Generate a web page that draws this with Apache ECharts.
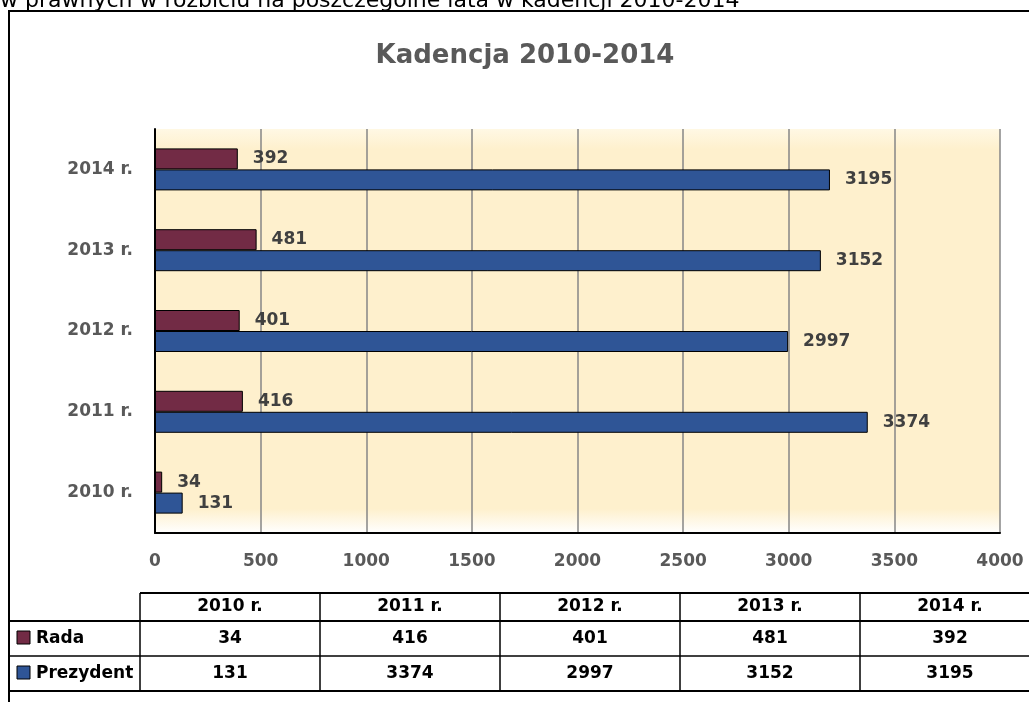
<!DOCTYPE html>
<html>
<head>
<meta charset="utf-8">
<script src="https://cdn.jsdelivr.net/npm/echarts@6/dist/echarts.min.js"></script>
<style>
  html, body { margin: 0; padding: 0; background: #fff; }
  #chart { width: 1029px; height: 702px; }
</style>
</head>
<body>
<div id="chart"></div>
<script>
// dane z wykresu
const years = ['2010 r.', '2011 r.', '2012 r.', '2013 r.', '2014 r.'];
const rada = [34, 416, 401, 481, 392];
const prezydent = [131, 3374, 2997, 3152, 3195];
const xTicks = [0, 4000, 500]; // min, max, interval

const FONT = 'DejaVu Sans';
const RADA_COLOR = '#722B45';
const PREZ_COLOR = '#2F5596';

const chart = echarts.init(document.getElementById('chart'));

// tabela danych pod wykresem
function buildTable() {
  const els = [];
  const colX = [140, 320, 500, 680, 860, 1040];
  const rowY = [593, 621, 656, 691];
  const line = (x1, y1, x2, y2, w) => ({
    type: 'line',
    shape: { x1, y1, x2, y2 },
    style: { stroke: '#000', lineWidth: w }
  });
  const txt = (x, y, text, align) => ({
    type: 'text',
    x, y,
    style: {
      text, fill: '#000', font: 'bold 17px ' + FONT,
      align: align || 'center', verticalAlign: 'middle'
    }
  });
  els.push(line(140, rowY[0], 1029, rowY[0], 2));
  els.push(line(9, rowY[1], 1029, rowY[1], 2));
  els.push(line(9, rowY[2], 1029, rowY[2], 1.5));
  els.push(line(9, rowY[3], 1029, rowY[3], 2));
  colX.forEach(x => {
    if (x < 1029) els.push(line(x, rowY[0], x, rowY[3], 1.5));
  });
  years.forEach((y, i) => {
    const cx = (colX[i] + colX[i + 1]) / 2;
    els.push(txt(cx, 607, y));
    els.push(txt(cx, 639, String(rada[i])));
    els.push(txt(cx, 674, String(prezydent[i])));
  });
  // legenda w tabeli
  els.push({ type: 'rect', shape: { x: 17, y: 631, width: 13, height: 13 },
    style: { fill: RADA_COLOR, stroke: '#000', lineWidth: 1 } });
  els.push({ type: 'rect', shape: { x: 17, y: 666, width: 13, height: 13 },
    style: { fill: PREZ_COLOR, stroke: '#000', lineWidth: 1 } });
  els.push(txt(36, 639, 'Rada', 'left'));
  els.push(txt(36, 674, 'Prezydent', 'left'));
  return els;
}

const option = {
  animation: false,
  textStyle: { fontFamily: FONT },
  grid: {
    left: 155, right: 29, top: 129, bottom: 169,
    show: true,
    borderWidth: 0,
    backgroundColor: new echarts.graphic.LinearGradient(0, 0, 0, 1, [
      { offset: 0, color: '#fff8e4' },
      { offset: 0.05, color: '#fef0cd' },
      { offset: 0.94, color: '#fef0cd' },
      { offset: 1, color: '#ffffff' }
    ])
  },
  graphic: [
    {
      type: 'text', x: 0, y: 12,
      style: { text: 'w prawnych w rozbiciu na poszczególne lata w kadencji 2010-2014',
        fill: '#000', font: '22px ' + FONT, verticalAlign: 'bottom' }
    },
    { type: 'line', shape: { x1: 8, y1: 11, x2: 1029, y2: 11 }, style: { stroke: '#000', lineWidth: 2 } },
    { type: 'line', shape: { x1: 9, y1: 11, x2: 9, y2: 702 }, style: { stroke: '#000', lineWidth: 2 } },
    {
      type: 'text', x: 525, y: 56,
      style: { text: 'Kadencja 2010-2014', fill: '#595959', font: 'bold 26px ' + FONT,
        align: 'center', verticalAlign: 'middle' }
    }
  ].concat(buildTable()),
  xAxis: {
    type: 'value',
    min: xTicks[0], max: xTicks[1], interval: xTicks[2],
    axisLine: { show: true, lineStyle: { color: '#000', width: 2 } },
    axisTick: { show: false },
    axisLabel: { color: '#595959', fontSize: 17, fontWeight: 'bold', margin: 20,
      formatter: v => String(v) },
    splitLine: { show: true, lineStyle: { color: '#868686', width: 1.5 } }
  },
  yAxis: {
    type: 'category',
    data: years,
    axisLine: { show: true, lineStyle: { color: '#000', width: 2 } },
    axisTick: { show: false },
    axisLabel: { color: '#595959', fontSize: 17, fontWeight: 'bold', margin: 22 }
  },
  series: [
    {
      name: 'Rada', type: 'bar', data: rada,
      barWidth: 21, barGap: '0%',
      itemStyle: { color: RADA_COLOR, borderColor: '#000', borderWidth: 1 },
      label: { show: true, position: 'right', distance: 15, color: '#404040',
        fontSize: 17, fontWeight: 'bold' }
    },
    {
      name: 'Prezydent', type: 'bar', data: prezydent,
      barWidth: 21, barGap: '0%',
      itemStyle: { color: PREZ_COLOR, borderColor: '#000', borderWidth: 1 },
      label: { show: true, position: 'right', distance: 15, color: '#404040',
        fontSize: 17, fontWeight: 'bold' }
    }
  ]
};

chart.setOption(option);
</script>
</body>
</html>
